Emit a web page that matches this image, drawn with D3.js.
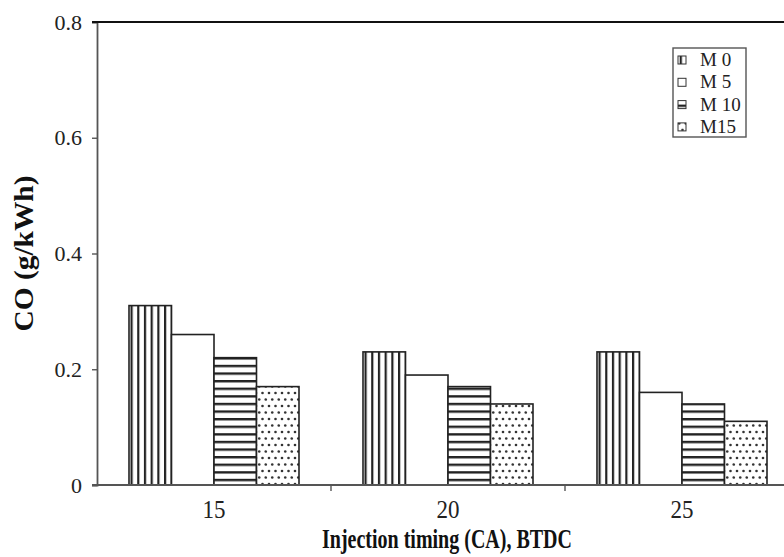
<!DOCTYPE html>
<html>
<head>
<meta charset="utf-8">
<script src="https://cdn.jsdelivr.net/npm/d3@7"></script>
<style>
  body { margin: 0; background: #fff; }
  svg { display: block; font-family: "Liberation Serif", "Times New Roman", serif; }
</style>
</head>
<body>
<div id="chart"></div>
<script>
// injection timing groups and fuel blends
var timings = ['15', '20', '25']
var blends = ['M 0', 'M 5', 'M 10', 'M15']
// CO emission (g/kWh), one array per blend, in timing order
var m0 = [0.31, 0.23, 0.23]
var m5 = [0.26, 0.19, 0.16]
var m10 = [0.22, 0.17, 0.14]
var m15 = [0.17, 0.14, 0.11]
var yTicks = [0, 0.2, 0.4, 0.6, 0.8]

var seriesValues = [m0, m5, m10, m15]
var fills = ['url(#vert)', '#fff', 'url(#horiz)', 'url(#dots)']

var width = 784, height = 557
var margin = {top: 22, left: 97, bottom: 72}
var plotRight = 799 // plot runs off the right edge in the original

var svg = d3.select('#chart').append('svg')
  .attr('width', width)
  .attr('height', height)

// hatch patterns
var defs = svg.append('defs')
var pv = defs.append('pattern').attr('id', 'vert')
  .attr('patternUnits', 'userSpaceOnUse').attr('width', 6.7).attr('height', 10)
pv.append('rect').attr('width', 6.7).attr('height', 10).attr('fill', '#fff')
pv.append('rect').attr('x', 0).attr('width', 2.2).attr('height', 10).attr('fill', '#222')

var ph = defs.append('pattern').attr('id', 'horiz')
  .attr('patternUnits', 'userSpaceOnUse').attr('width', 10).attr('height', 7.6)
ph.append('rect').attr('width', 10).attr('height', 7.6).attr('fill', '#fff')
ph.append('rect').attr('y', 0).attr('width', 10).attr('height', 2.4).attr('fill', '#222')

var pd = defs.append('pattern').attr('id', 'dots')
  .attr('patternUnits', 'userSpaceOnUse').attr('width', 13).attr('height', 13)
pd.append('rect').attr('width', 13).attr('height', 13).attr('fill', '#fff')
;[[3, 3], [9.5, 3], [6.25, 9.5], [12.75, 9.5], [-0.25, 9.5]].forEach(function(p) {
  pd.append('circle').attr('cx', p[0]).attr('cy', p[1]).attr('r', 1.3).attr('fill', '#333')
})

var x0 = d3.scaleBand()
  .domain(timings)
  .range([margin.left, plotRight])

var x1 = d3.scaleBand()
  .domain(blends)
  .range([0, x0.bandwidth()])
  .paddingOuter(0.753)

var y = d3.scaleLinear()
  .domain([0, 0.8])
  .range([height - margin.bottom, margin.top])

// bars
var groups = svg.append('g').selectAll('g')
  .data(timings)
  .enter().append('g')
  .attr('transform', function(d) { return 'translate(' + x0(d) + ',0)' })

groups.selectAll('rect')
  .data(function(t, i) {
    return blends.map(function(b, j) { return {blend: b, value: seriesValues[j][i], k: j} })
  })
  .enter().append('rect')
  .attr('x', function(d) { return x1(d.blend) })
  .attr('y', function(d) { return y(d.value) })
  .attr('width', x1.bandwidth())
  .attr('height', function(d) { return y(0) - y(d.value) })
  .attr('fill', function(d) { return fills[d.k] })
  .attr('stroke', '#222')
  .attr('stroke-width', 1.6)

// axes
var yAxis = svg.append('g')
  .attr('transform', 'translate(' + margin.left + ',0)')
  .call(d3.axisLeft(y).tickValues(yTicks).tickSize(5).tickPadding(10)
    .tickFormat(function(d) { return d === 0 ? '0' : d3.format('.1f')(d) }))
yAxis.select('.domain').attr('stroke', '#555').attr('stroke-width', 1.8)
yAxis.selectAll('.tick line').attr('stroke', '#555').attr('stroke-width', 1.4)
yAxis.selectAll('text').attr('font-size', 22).attr('fill', '#222')
  .attr('font-family', '"Liberation Serif", serif')

var xAxis = svg.append('g')
  .attr('transform', 'translate(0,' + y(0) + ')')
xAxis.append('line')
  .attr('x1', margin.left - 5).attr('x2', plotRight)
  .attr('stroke', '#555').attr('stroke-width', 1.8)
xAxis.selectAll('.sep')
  .data(timings.slice(1))
  .enter().append('line')
  .attr('x1', function(d) { return x0(d) }).attr('x2', function(d) { return x0(d) })
  .attr('y1', 0).attr('y2', 6)
  .attr('stroke', '#555').attr('stroke-width', 1.4)
xAxis.selectAll('.lbl')
  .data(timings)
  .enter().append('text')
  .attr('x', function(d) { return x0(d) + x0.bandwidth() / 2 - 23 / 2 })
  .attr('y', 33)
  .attr('font-size', 25)
  .attr('textLength', 23)
  .attr('lengthAdjust', 'spacingAndGlyphs')
  .attr('fill', '#222')
  .text(function(d) { return d })

// top frame line
svg.append('line')
  .attr('x1', margin.left - 5).attr('x2', plotRight)
  .attr('y1', y(0.8)).attr('y2', y(0.8))
  .attr('stroke', '#111').attr('stroke-width', 1.8)

// axis titles
svg.append('text')
  .attr('x', 322)
  .attr('y', 548)
  .attr('font-size', 27)
  .attr('font-weight', 'bold')
  .attr('textLength', 250)
  .attr('lengthAdjust', 'spacingAndGlyphs')
  .attr('fill', '#111')
  .text('Injection timing (CA), BTDC')

svg.append('text')
  .attr('transform', 'translate(33,' + (y(0.4) + 78) + ') rotate(-90)')
  .attr('font-size', 27)
  .attr('font-weight', 'bold')
  .attr('textLength', 156)
  .attr('lengthAdjust', 'spacingAndGlyphs')
  .attr('fill', '#111')
  .text('CO (g/kWh)')

// legend
var legend = svg.append('g').attr('transform', 'translate(673,48)')
legend.append('rect')
  .attr('width', 73).attr('height', 89)
  .attr('fill', '#fff').attr('stroke', '#555').attr('stroke-width', 1.4)
var li = legend.selectAll('.item')
  .data(blends)
  .enter().append('g')
  .attr('transform', function(d, i) { return 'translate(0,' + (12 + i * 22.3) + ')' })
li.append('rect')
  .attr('x', 5).attr('y', -4).attr('width', 8).attr('height', 8)
  .attr('fill', function(d, i) { return fills[i] })
  .attr('stroke', '#333').attr('stroke-width', 1)
li.append('text')
  .attr('x', 27).attr('y', 6)
  .attr('font-size', 19)
  .attr('fill', '#222')
  .text(function(d) { return d })
</script>
</body>
</html>
